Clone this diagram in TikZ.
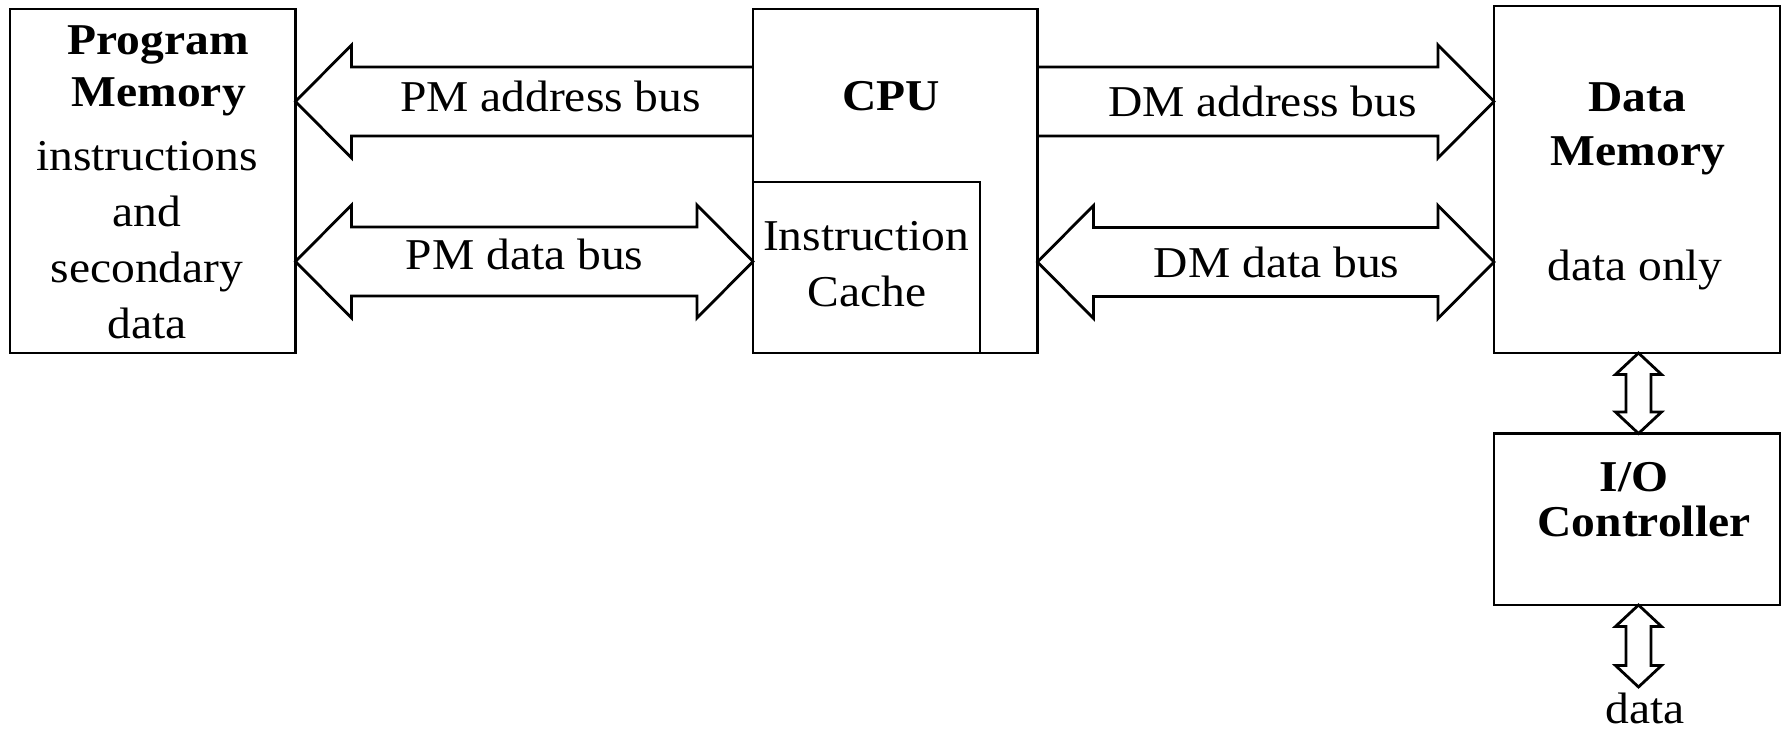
\documentclass[tikz,border=0pt]{standalone}
\usepackage{fontspec}
\setmainfont[FakeStretch=1.08]{Liberation Serif}
\usetikzlibrary{calc}

% bus arrow geometry (picture units)
\newcommand{\busHead}{56}
\newcommand{\busWing}{56.5}
\newcommand{\busShaft}{34.5}
\newcommand{\ioHead}{21.5}
\newcommand{\ioWing}{23}
\newcommand{\ioShaft}{12.5}

% two-headed horizontal bus: #1 left tip, #2 right tip
\newcommand{\hdoublebus}[2]{%
  \draw[bus] (#1) -- ++(\busHead,-\busWing) -- ++(0,\busWing-\busShaft)
    -- ($(#2)+(-\busHead,-\busShaft)$) -- ++(0,\busShaft-\busWing) -- (#2)
    -- ++(-\busHead,\busWing) -- ++(0,\busShaft-\busWing)
    -- ($(#1)+(\busHead,\busShaft)$) -- ++(0,\busWing-\busShaft) -- cycle;}
% one-way bus pointing left: #1 tip, #2 open tail
\newcommand{\leftbus}[2]{%
  \draw[bus] ($(#2)+(0,-\busShaft)$) -- ($(#1)+(\busHead,-\busShaft)$)
    -- ++(0,\busShaft-\busWing) -- (#1) -- ++(\busHead,\busWing)
    -- ++(0,\busShaft-\busWing) -- ($(#2)+(0,\busShaft)$);}
% one-way bus pointing right: #1 open tail, #2 tip
\newcommand{\rightbus}[2]{%
  \draw[bus] ($(#1)+(0,-\busShaft)$) -- ($(#2)+(-\busHead,-\busShaft)$)
    -- ++(0,\busShaft-\busWing) -- (#2) -- ++(-\busHead,\busWing)
    -- ++(0,\busShaft-\busWing) -- ($(#1)+(0,\busShaft)$);}
% two-headed vertical link: #1 top tip, #2 bottom tip
\newcommand{\vdoublebus}[2]{%
  \draw[bus] (#1) -- ++(\ioWing,\ioHead) -- ++(\ioShaft-\ioWing,0)
    -- ($(#2)+(\ioShaft,-\ioHead)$) -- ++(\ioWing-\ioShaft,0) -- (#2)
    -- ++(-\ioWing,-\ioHead) -- ++(\ioWing-\ioShaft,0)
    -- ($(#1)+(-\ioShaft,\ioHead)$) -- ++(\ioShaft-\ioWing,0) -- cycle;}

\begin{document}
\begin{tikzpicture}[x=0.5pt,y=-0.5pt,
  box/.style={draw, line width=1.4pt, rectangle, inner sep=0pt, outer sep=0pt},
  bus/.style={line width=1.4pt, line join=miter},
  lbl/.style={anchor=base, inner sep=0pt, font=\fontsize{22}{26}\selectfont},
  ttl/.style={lbl, font=\fontsize{22}{26}\selectfont\bfseries}]
\useasboundingbox (0,0) rectangle (1785,733);

% blocks
\node[box, minimum width=142.75pt, minimum height=172pt] (pm) at (152.75,181) {};
\node[box, minimum width=142.25pt, minimum height=172pt] (cpu) at (895.25,181) {};
\node[box, minimum width=113.5pt, minimum height=85.5pt] (cache) at (866.5,267.5) {};
\node[box, minimum width=143pt, minimum height=173.5pt] (dm) at (1637,179.5) {};
\node[box, minimum width=143pt, minimum height=85.75pt] (io) at (1637,519.25) {};

% block texts
\node[ttl] (pmt1) at (158,55) {Program};
\node[ttl] (pmt2) at (158.7,107) {Memory};
\node[lbl] (pmt3) at (147,170) {instructions};
\node[lbl] (pmt4) at (147,227) {and};
\node[lbl] (pmt5) at (147,282) {secondary};
\node[lbl] (pmt6) at (147.5,338) {data};

\node[ttl] (cput) at (891,111) {CPU};
\node[lbl] (cat1) at (866,250) {Instruction};
\node[lbl] (cat2) at (866.8,306.7) {Cache};

\node[ttl] (dmt1) at (1637.5,112) {Data};
\node[ttl] (dmt2) at (1637.8,166) {Memory};
\node[lbl] (dmt3) at (1635,280.5) {data only};

\node[ttl] (iot1) at (1634,491.7) {I/O};
\node[ttl] (iot2) at (1644,536.7) {Controller};

% bus end points
\coordinate (pmaddrTip)  at (pm.east  |- 0,101.5);
\coordinate (pmaddrTail) at (cpu.west |- 0,101.5);
\coordinate (pmdataL)    at (pm.east  |- 0,261.5);
\coordinate (pmdataR)    at (cpu.west |- 0,261.5);
\coordinate (dmaddrTail) at (cpu.east |- 0,101.5);
\coordinate (dmaddrTip)  at (dm.west  |- 0,101.5);
\coordinate (dmdataL)    at (cpu.east |- 0,262);
\coordinate (dmdataR)    at (dm.west  |- 0,262);
\coordinate (dmlinkT)    at ($(dm.south)+(1.5,0)$);
\coordinate (dmlinkB)    at ($(io.north)+(1.5,0)$);
\coordinate (iolinkT)    at ($(io.south)+(1.5,0)$);
\coordinate (ioout)      at ($(io.south)+(1.5,82)$);

% buses
\leftbus{pmaddrTip}{pmaddrTail}
\hdoublebus{pmdataL}{pmdataR}
\rightbus{dmaddrTail}{dmaddrTip}
\hdoublebus{dmdataL}{dmdataR}
\vdoublebus{dmlinkT}{dmlinkB}
\vdoublebus{iolinkT}{ioout}

% bus labels
\node[lbl] (pmaddr) at (550.5,111.7) {PM address bus};
\node[lbl] (pmdata) at (524.7,270) {PM data bus};
\node[lbl] (dmaddr) at (1262.5,117) {DM address bus};
\node[lbl] (dmdata) at (1276.6,277.5) {DM data bus};
\node[lbl] (iodata) at (1645,723) {data};
\end{tikzpicture}
\end{document}
